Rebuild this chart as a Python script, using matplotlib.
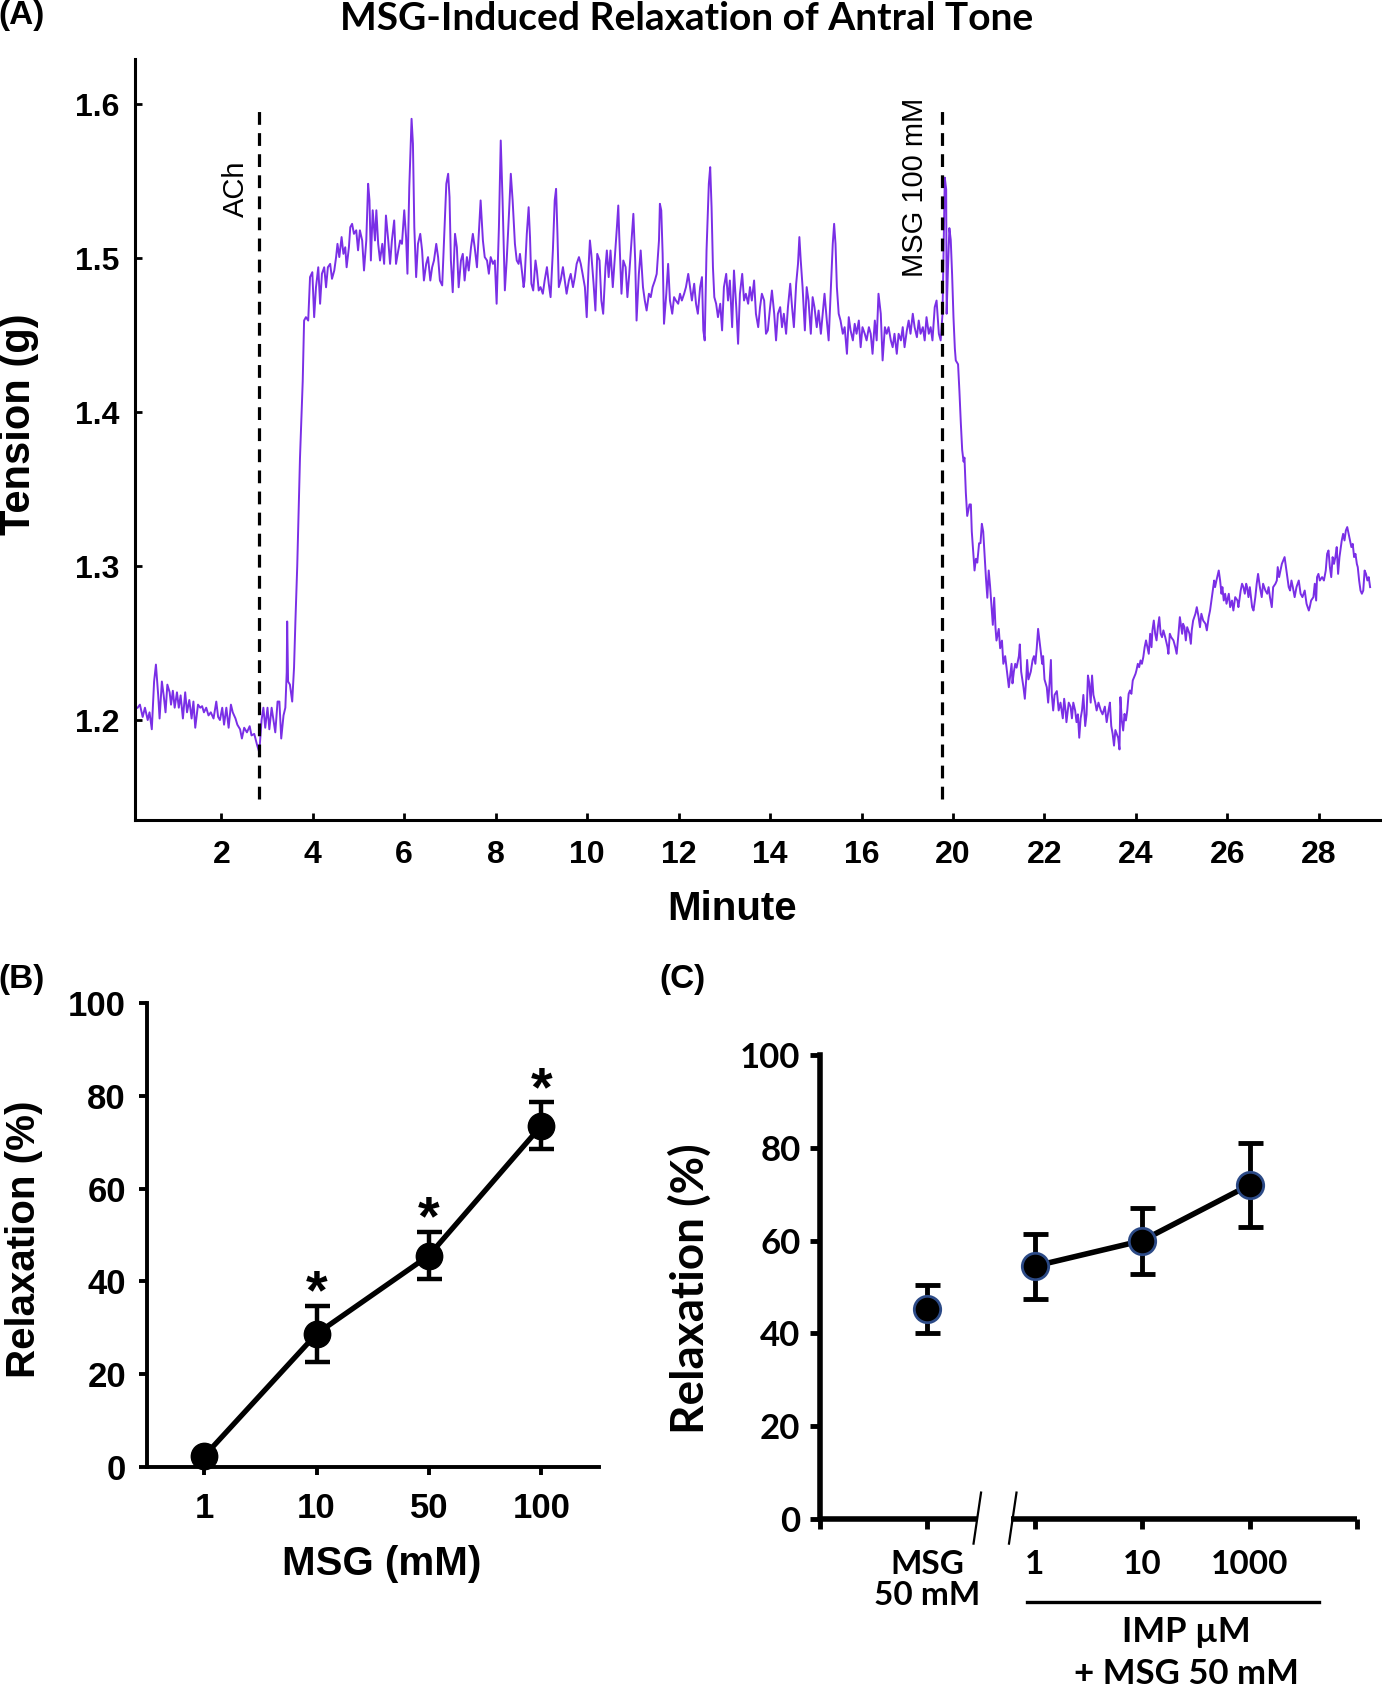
import numpy as np
import matplotlib
matplotlib.use("Agg")
import matplotlib.pyplot as plt

ARIAL = ["Liberation Sans", "DejaVu Sans"]
CALIBRI = ["Lato", "DejaVu Sans"]
plt.rcParams["font.family"] = ARIAL
plt.rcParams["font.weight"] = "bold"

TRACE = "#7a2fe6"

# ---------------- panel A: tension recording (minute, g) ----------------
ach_baseline = [
    (0.17, 1.208), (0.22, 1.210), (0.28, 1.202), (0.33, 1.208), (0.39, 1.200), (0.43, 1.205), (0.48, 1.194), (0.53, 1.225),
    (0.57, 1.236), (0.62, 1.216), (0.65, 1.201), (0.70, 1.225), (0.74, 1.216), (0.78, 1.205), (0.82, 1.223), (0.87, 1.218),
    (0.90, 1.210), (0.94, 1.219), (0.98, 1.208), (1.03, 1.218), (1.07, 1.208), (1.11, 1.216), (1.16, 1.201), (1.21, 1.218),
    (1.25, 1.205), (1.30, 1.213), (1.35, 1.201), (1.39, 1.212), (1.43, 1.195), (1.49, 1.210), (1.54, 1.208), (1.58, 1.209),
    (1.62, 1.205), (1.67, 1.208), (1.72, 1.203), (1.77, 1.205), (1.83, 1.201), (1.89, 1.212), (1.93, 1.202), (1.97, 1.200),
    (2.02, 1.208), (2.06, 1.197), (2.11, 1.208), (2.16, 1.195), (2.21, 1.210), (2.25, 1.205), (2.31, 1.201), (2.35, 1.197),
    (2.41, 1.194), (2.45, 1.188), (2.50, 1.195), (2.56, 1.192), (2.62, 1.196), (2.66, 1.190), (2.72, 1.191), (2.78, 1.184),
    (2.83, 1.179), (2.88, 1.200), (2.92, 1.208), (2.96, 1.195), (3.01, 1.208), (3.05, 1.194), (3.10, 1.208), (3.14, 1.200),
    (3.18, 1.192), (3.23, 1.212), (3.27, 1.212), (3.31, 1.188), (3.36, 1.203), (3.40, 1.208), (3.43, 1.231), (3.44, 1.264),
    (3.46, 1.225), (3.50, 1.223), (3.55, 1.212), (3.59, 1.234), (3.62, 1.264), (3.66, 1.300), (3.72, 1.370), (3.78, 1.420),
]

ach_plateau = [
    (3.81, 1.4594), (3.85, 1.4616), (3.90, 1.4594), (3.94, 1.4876), (3.99, 1.4908), (4.03, 1.4616), (4.07, 1.4810), (4.12, 1.4940),
    (4.16, 1.4703), (4.20, 1.4898), (4.25, 1.4940), (4.29, 1.4810), (4.33, 1.4940), (4.38, 1.4962), (4.42, 1.4865), (4.47, 1.4919),
    (4.51, 1.5006), (4.54, 1.5092), (4.58, 1.5006), (4.63, 1.5136), (4.67, 1.5027), (4.71, 1.5070), (4.74, 1.4940), (4.79, 1.5070),
    (4.82, 1.5200), (4.86, 1.5222), (4.90, 1.5157), (4.95, 1.5180), (4.99, 1.5050), (5.03, 1.5180), (5.08, 1.5114), (5.12, 1.4919),
    (5.17, 1.5114), (5.21, 1.5482), (5.24, 1.5374), (5.27, 1.4984), (5.31, 1.5310), (5.36, 1.5114), (5.39, 1.5310), (5.43, 1.5092),
    (5.47, 1.4984), (5.52, 1.5092), (5.56, 1.4962), (5.60, 1.5276), (5.65, 1.5114), (5.69, 1.4962), (5.73, 1.5114), (5.78, 1.5244),
    (5.82, 1.4962), (5.87, 1.5050), (5.91, 1.5114), (5.95, 1.5092), (6.00, 1.5310), (6.04, 1.5136), (6.07, 1.4898), (6.11, 1.5460),
    (6.16, 1.5904), (6.19, 1.5742), (6.22, 1.5200), (6.26, 1.4876), (6.30, 1.5092), (6.35, 1.5157), (6.39, 1.5050), (6.43, 1.4854),
    (6.48, 1.4962), (6.52, 1.5006), (6.57, 1.4854), (6.61, 1.4940), (6.65, 1.4984), (6.70, 1.5092), (6.74, 1.5006), (6.78, 1.4854),
    (6.83, 1.4822), (6.87, 1.5114), (6.92, 1.5482), (6.96, 1.5547), (6.99, 1.5396), (7.02, 1.4984), (7.06, 1.4778), (7.11, 1.5157),
    (7.15, 1.5070), (7.19, 1.4810), (7.24, 1.4984), (7.28, 1.5027), (7.32, 1.4854), (7.37, 1.5006), (7.41, 1.4919), (7.46, 1.5070),
    (7.50, 1.5157), (7.54, 1.5070), (7.59, 1.4940), (7.63, 1.5157), (7.67, 1.5374), (7.72, 1.5114), (7.76, 1.5006), (7.81, 1.4984),
    (7.85, 1.4898), (7.89, 1.5006), (7.94, 1.4962), (7.98, 1.4984), (8.02, 1.4703), (8.07, 1.5200), (8.11, 1.5763), (8.15, 1.5374),
    (8.20, 1.4790), (8.24, 1.4984), (8.29, 1.5287), (8.33, 1.5547), (8.37, 1.5374), (8.42, 1.5092), (8.46, 1.4984), (8.50, 1.4962),
    (8.53, 1.5027), (8.58, 1.4897), (8.61, 1.4811), (8.63, 1.4854), (8.68, 1.5157), (8.72, 1.5330), (8.75, 1.5136), (8.78, 1.4833),
    (8.82, 1.4789), (8.87, 1.4984), (8.90, 1.4919), (8.94, 1.4789), (8.98, 1.4811), (9.03, 1.4768), (9.07, 1.4854), (9.12, 1.4941),
    (9.16, 1.4833), (9.20, 1.4746), (9.25, 1.5049), (9.29, 1.5374), (9.32, 1.5449), (9.35, 1.5157), (9.38, 1.4811), (9.42, 1.4854),
    (9.47, 1.4941), (9.51, 1.4854), (9.55, 1.4768), (9.60, 1.4854), (9.64, 1.4897), (9.69, 1.4811), (9.73, 1.4876), (9.77, 1.4962),
    (9.82, 1.5006), (9.86, 1.4962), (9.90, 1.4897), (9.95, 1.4811), (9.99, 1.4616), (10.03, 1.4941), (10.06, 1.5114), (10.09, 1.5027),
    (10.14, 1.4833), (10.18, 1.4659), (10.22, 1.5027), (10.27, 1.4984), (10.31, 1.4724), (10.35, 1.4638), (10.40, 1.4941), (10.43, 1.5049),
    (10.47, 1.4876), (10.51, 1.5049), (10.56, 1.4811), (10.60, 1.4984), (10.65, 1.5200), (10.68, 1.5341), (10.70, 1.5157), (10.75, 1.4768),
    (10.79, 1.4984), (10.84, 1.4941), (10.88, 1.4746), (10.92, 1.4897), (10.97, 1.5114), (11.01, 1.5287), (11.05, 1.4984), (11.08, 1.4594),
    (11.13, 1.4897), (11.17, 1.5049), (11.22, 1.4811), (11.26, 1.4724), (11.30, 1.4659), (11.35, 1.4768), (11.39, 1.4746), (11.43, 1.4811),
    (11.48, 1.4854), (11.52, 1.4897), (11.57, 1.5114), (11.59, 1.5352), (11.62, 1.5309), (11.65, 1.5027), (11.68, 1.4573), (11.73, 1.4768),
    (11.77, 1.4962), (11.81, 1.4724), (11.86, 1.4638), (11.90, 1.4746), (11.94, 1.4724), (11.99, 1.4703), (12.03, 1.4768), (12.07, 1.4724),
    (12.12, 1.4768), (12.16, 1.4811), (12.21, 1.4897), (12.25, 1.4811), (12.29, 1.4724), (12.34, 1.4833), (12.38, 1.4703), (12.42, 1.4638),
    (12.47, 1.4811), (12.51, 1.4876), (12.54, 1.4530), (12.57, 1.4465), (12.61, 1.5049), (12.66, 1.5482), (12.69, 1.5590), (12.72, 1.5330),
    (12.75, 1.4941), (12.78, 1.4746), (12.82, 1.4703), (12.86, 1.4616), (12.91, 1.4703), (12.95, 1.4530), (12.99, 1.4811), (13.04, 1.4897),
    (13.08, 1.4724), (13.12, 1.4854), (13.17, 1.4551), (13.21, 1.4919), (13.26, 1.4681), (13.30, 1.4443), (13.34, 1.4768), (13.39, 1.4897),
    (13.43, 1.4724), (13.47, 1.4768), (13.52, 1.4703), (13.56, 1.4811), (13.60, 1.4724), (13.65, 1.4854), (13.69, 1.4638), (13.74, 1.4551),
    (13.78, 1.4681), (13.82, 1.4768), (13.87, 1.4724), (13.91, 1.4508), (13.95, 1.4530), (14.00, 1.4681), (14.04, 1.4789), (14.09, 1.4638),
    (14.13, 1.4465), (14.17, 1.4638), (14.22, 1.4681), (14.26, 1.4551), (14.30, 1.4638), (14.35, 1.4508), (14.39, 1.4681), (14.44, 1.4833),
    (14.48, 1.4681), (14.52, 1.4551), (14.57, 1.4833), (14.61, 1.4962), (14.64, 1.5136), (14.67, 1.4984), (14.71, 1.4811), (14.76, 1.4530),
    (14.80, 1.4811), (14.84, 1.4724), (14.89, 1.4508), (14.93, 1.4746), (14.97, 1.4681), (15.02, 1.4551), (15.06, 1.4659), (15.11, 1.4508),
    (15.15, 1.4638), (15.19, 1.4768), (15.24, 1.4594), (15.28, 1.4465), (15.33, 1.4811), (15.37, 1.5092), (15.40, 1.5222), (15.43, 1.5092),
    (15.46, 1.4811), (15.50, 1.4638), (15.54, 1.4594), (15.59, 1.4508), (15.63, 1.4551), (15.68, 1.4378), (15.72, 1.4616), (15.76, 1.4530),
    (15.81, 1.4465), (15.85, 1.4573), (15.89, 1.4508), (15.94, 1.4594), (15.98, 1.4421), (16.02, 1.4551), (16.07, 1.4508), (16.11, 1.4465),
    (16.16, 1.4551), (16.20, 1.4508), (16.24, 1.4378), (16.29, 1.4594), (16.33, 1.4465), (16.37, 1.4768), (16.42, 1.4638), (16.46, 1.4335),
    (16.51, 1.4551), (16.55, 1.4508), (16.59, 1.4551), (16.64, 1.4465), (16.68, 1.4421), (16.72, 1.4508), (16.77, 1.4378), (16.81, 1.4508),
    (16.86, 1.4465), (16.90, 1.4551), (16.94, 1.4421), (16.99, 1.4530), (17.03, 1.4594), (17.07, 1.4508), (17.12, 1.4638), (17.16, 1.4551),
    (17.21, 1.4486), (17.25, 1.4594), (17.29, 1.4508), (17.34, 1.4551), (17.38, 1.4465), (17.42, 1.4616), (17.47, 1.4508), (17.51, 1.4551),
    (17.55, 1.4465), (17.60, 1.4681), (17.64, 1.4724), (17.69, 1.4508), (17.73, 1.4465), (17.77, 1.4638),
]

msg_relaxation = [
    (17.82, 1.5522), (17.85, 1.5446), (17.86, 1.4638), (17.89, 1.4941), (17.92, 1.5194), (17.95, 1.5118), (17.98, 1.4891), (18.01, 1.4613),
    (18.04, 1.4411), (18.06, 1.4335), (18.11, 1.4310), (18.14, 1.4133), (18.17, 1.3931), (18.20, 1.3754), (18.23, 1.3678), (18.25, 1.3704),
    (18.28, 1.3476), (18.31, 1.3325), (18.36, 1.3400), (18.39, 1.3400), (18.41, 1.3224), (18.44, 1.3097), (18.47, 1.2971), (18.50, 1.3047),
    (18.53, 1.3022), (18.57, 1.3148), (18.60, 1.3148), (18.63, 1.3274), (18.66, 1.3224), (18.69, 1.3072), (18.72, 1.2921), (18.75, 1.2794),
    (18.78, 1.2971), (18.81, 1.2870), (18.84, 1.2744), (18.87, 1.2618), (18.90, 1.2794), (18.93, 1.2592), (18.95, 1.2516), (19.00, 1.2592),
    (19.03, 1.2466), (19.07, 1.2516), (19.10, 1.2365), (19.14, 1.2415), (19.17, 1.2340), (19.22, 1.2213), (19.25, 1.2289), (19.28, 1.2365),
    (19.30, 1.2238), (19.33, 1.2314), (19.36, 1.2365), (19.39, 1.2340), (19.44, 1.2415), (19.46, 1.2491), (19.49, 1.2314), (19.54, 1.2213),
    (19.57, 1.2138), (19.60, 1.2264), (19.62, 1.2390), (19.65, 1.2264), (19.70, 1.2314), (19.74, 1.2390), (19.77, 1.2415), (19.80, 1.2365),
    (19.83, 1.2466), (19.86, 1.2592), (19.89, 1.2516), (19.92, 1.2441), (19.95, 1.2365), (19.97, 1.2415), (20.00, 1.2264), (20.05, 1.2213),
    (20.08, 1.2113), (20.11, 1.2238), (20.14, 1.2390), (20.16, 1.2163), (20.19, 1.2062), (20.22, 1.2163), (20.27, 1.2188), (20.31, 1.2062),
    (20.35, 1.2113), (20.40, 1.2011), (20.43, 1.2138), (20.46, 1.2062), (20.48, 1.1986), (20.53, 1.2113), (20.57, 1.2087), (20.60, 1.2011),
    (20.63, 1.2113), (20.67, 1.2062), (20.70, 1.1986), (20.73, 1.2037), (20.76, 1.1885), (20.79, 1.2011), (20.82, 1.2062), (20.85, 1.2163),
    (20.89, 1.1961), (20.92, 1.2037), (20.95, 1.2289), (20.98, 1.2238), (21.01, 1.2113), (21.04, 1.2289), (21.07, 1.2163), (21.11, 1.2113),
    (21.14, 1.2062), (21.18, 1.2113), (21.23, 1.2062), (21.27, 1.2037), (21.32, 1.2087), (21.36, 1.1986), (21.40, 1.2062), (21.43, 1.2113),
    (21.46, 1.1961), (21.49, 1.1910), (21.52, 1.1834), (21.55, 1.1935), (21.58, 1.1910), (21.61, 1.1885), (21.64, 1.1809), (21.66, 1.2149),
    (21.69, 1.1997), (21.72, 1.1932), (21.75, 1.2040), (21.78, 1.1997), (21.81, 1.2062), (21.84, 1.2170), (21.87, 1.2192), (21.90, 1.2170),
    (21.93, 1.2257), (21.96, 1.2279), (21.99, 1.2300), (22.01, 1.2322), (22.04, 1.2365), (22.07, 1.2343), (22.10, 1.2387), (22.13, 1.2365),
    (22.16, 1.2408), (22.19, 1.2473), (22.22, 1.2517), (22.25, 1.2473), (22.28, 1.2430), (22.31, 1.2560), (22.34, 1.2473), (22.36, 1.2582),
    (22.39, 1.2646), (22.42, 1.2560), (22.45, 1.2517), (22.48, 1.2603), (22.51, 1.2668), (22.54, 1.2560), (22.57, 1.2538), (22.60, 1.2582),
    (22.64, 1.2538), (22.69, 1.2473), (22.71, 1.2430), (22.74, 1.2560), (22.77, 1.2538), (22.82, 1.2517), (22.86, 1.2473), (22.89, 1.2430),
    (22.93, 1.2560), (22.96, 1.2668), (23.01, 1.2560), (23.03, 1.2625), (23.06, 1.2603), (23.09, 1.2517), (23.12, 1.2603), (23.17, 1.2560),
    (23.20, 1.2495), (23.22, 1.2582), (23.25, 1.2646), (23.30, 1.2690), (23.33, 1.2733), (23.37, 1.2668), (23.40, 1.2603), (23.43, 1.2690),
    (23.47, 1.2646), (23.52, 1.2625), (23.55, 1.2582), (23.59, 1.2668), (23.62, 1.2711), (23.65, 1.2776), (23.68, 1.2841), (23.71, 1.2906),
    (23.73, 1.2863), (23.76, 1.2906), (23.81, 1.2971), (23.84, 1.2906), (23.87, 1.2820), (23.89, 1.2863), (23.92, 1.2776), (23.95, 1.2820),
    (23.98, 1.2755), (24.03, 1.2820), (24.06, 1.2733), (24.10, 1.2776), (24.13, 1.2711), (24.17, 1.2798), (24.22, 1.2776), (24.24, 1.2733),
    (24.29, 1.2841), (24.32, 1.2885), (24.35, 1.2863), (24.38, 1.2820), (24.41, 1.2885), (24.43, 1.2863), (24.46, 1.2798), (24.49, 1.2863),
    (24.54, 1.2733), (24.57, 1.2711), (24.61, 1.2798), (24.64, 1.2885), (24.67, 1.2949), (24.71, 1.2863), (24.75, 1.2798), (24.78, 1.2885),
    (24.83, 1.2841), (24.87, 1.2820), (24.90, 1.2863), (24.93, 1.2798), (24.97, 1.2733), (25.00, 1.2863), (25.05, 1.2885), (25.08, 1.2906),
    (25.10, 1.2993), (25.13, 1.2928), (25.16, 1.2971), (25.19, 1.3014), (25.22, 1.3036), (25.25, 1.3058), (25.28, 1.2993), (25.31, 1.2928),
    (25.34, 1.2863), (25.37, 1.2841), (25.40, 1.2906), (25.43, 1.2863), (25.47, 1.2798), (25.51, 1.2863), (25.56, 1.2906), (25.60, 1.2820),
    (25.64, 1.2798), (25.69, 1.2841), (25.73, 1.2755), (25.78, 1.2711), (25.80, 1.2733), (25.83, 1.2776), (25.88, 1.2798), (25.91, 1.2885),
    (25.94, 1.2776), (25.96, 1.2928), (25.99, 1.2949), (26.02, 1.2906), (26.07, 1.2928), (26.11, 1.2906), (26.15, 1.2971), (26.18, 1.3079),
    (26.21, 1.3101), (26.24, 1.2993), (26.27, 1.2928), (26.30, 1.3058), (26.33, 1.3014), (26.36, 1.3058), (26.39, 1.3123), (26.42, 1.2949),
    (26.45, 1.3058), (26.48, 1.3123), (26.50, 1.3166), (26.53, 1.3209), (26.56, 1.3166), (26.59, 1.3231), (26.62, 1.3253), (26.65, 1.3209),
    (26.68, 1.3166), (26.71, 1.3123), (26.74, 1.3144), (26.77, 1.3058), (26.80, 1.3079), (26.83, 1.3014), (26.85, 1.2993), (26.88, 1.2906),
    (26.91, 1.2841), (26.94, 1.2820), (26.97, 1.2841), (27.00, 1.2971), (27.03, 1.2949), (27.06, 1.2906), (27.09, 1.2928), (27.12, 1.2863),
]

ach_minute = 2.83
msg_minute = 17.75
drug_line_span = (1.149, 1.597)

a_xticks = [2, 4, 6, 8, 10, 12, 14, 16, 18, 20, 22, 24, 26]
a_xticklabels = ["2", "4", "6", "8", "10", "12", "14", "16", "20", "22", "24", "26", "28"]
a_yticks = [1.2, 1.3, 1.4, 1.5, 1.6]

# ---------------- panel B: MSG dose response ----------------
msg_doses = ["1", "10", "50", "100"]
msg_relax = [2.3, 28.7, 45.6, 73.6]
msg_sem = [0.0, 6.1, 5.0, 5.0]
msg_signif = [False, True, True, True]

# ---------------- panel C: IMP + MSG ----------------
c_ticklabels = ["", "MSG\n50 mM", "1", "10", "1000", ""]
msg50_relax = [45.3]
msg50_sem = [5.2]
imp_doses = ["1", "10", "1000"]
imp_relax = [54.5, 60.0, 72.0]
imp_sem = [7.0, 7.1, 9.0]

fig = plt.figure(figsize=(13.82, 16.91), dpi=100)

# ---------------- A ----------------
axA = fig.add_axes([0.0977, 0.515, 0.9023, 0.4499])
trace = np.array(ach_baseline + ach_plateau + msg_relaxation)
axA.plot(trace[:, 0], trace[:, 1], color=TRACE, lw=1.4)
for m in (ach_minute, msg_minute):
    axA.plot([m, m], drug_line_span, color="black", lw=2.3, linestyle=(0, (4, 2.6)))
axA.text(2.31, 1.545, "ACh", rotation=90, ha="center", va="center",
         fontsize=21, fontweight="normal")
axA.text(17.16, 1.546, "MSG 100 mM", rotation=90, ha="center", va="center",
         fontsize=21, fontweight="normal")
axA.set_xlim(0.113, 27.38)
axA.set_ylim(1.135, 1.629)
axA.set_xticks(a_xticks, a_xticklabels)
axA.set_yticks(a_yticks, [f"{v:.1f}" for v in a_yticks])
for s in ("top", "right"):
    axA.spines[s].set_visible(False)
for s in ("left", "bottom"):
    axA.spines[s].set_linewidth(2.2)
axA.tick_params(axis="both", direction="in", length=5, width=2, labelsize=23)
axA.tick_params(axis="x", pad=14)
axA.tick_params(axis="y", pad=11)

fig.text(0.497, 0.989, "MSG-Induced Relaxation of Antral Tone", ha="center", va="center",
         fontsize=28, family=CALIBRI, fontweight="bold")
fig.text(0.0156, 0.991, "(A)", ha="center", va="center", fontsize=24)
fig.text(0.014, 0.749, "Tension (g)", rotation=90, ha="center", va="center", fontsize=30)
fig.text(0.530, 0.4622, "Minute", ha="center", va="center", fontsize=29)

# ---------------- B ----------------
axB = fig.add_axes([0.1062, 0.1325, 0.327, 0.2742])
xb = np.arange(len(msg_doses))
axB.plot(xb, msg_relax, color="black", lw=3.8, zorder=2, clip_on=False)
axB.errorbar(xb, msg_relax, yerr=msg_sem, fmt="none", ecolor="black", elinewidth=3.2,
             capsize=9, capthick=3.2, zorder=3, clip_on=False)
axB.plot(xb, msg_relax, "o", color="black", ms=19, zorder=4, clip_on=False)
for x, v, e, sig in zip(xb, msg_relax, msg_sem, msg_signif):
    if sig:
        axB.text(x, v + e - 0.5, "*", ha="center", va="baseline", fontsize=40)
axB.set_xlim(-0.51, 3.51)
axB.set_ylim(0, 100)
axB.set_xticks(xb, msg_doses)
axB.set_yticks([0, 20, 40, 60, 80, 100])
for s in ("top", "right"):
    axB.spines[s].set_visible(False)
for s in ("left", "bottom"):
    axB.spines[s].set_linewidth(2.8)
axB.tick_params(axis="both", direction="out", length=6, width=2.8, labelsize=25)
axB.tick_params(axis="x", pad=12)
axB.tick_params(axis="y", pad=9)

fig.text(0.0156, 0.4208, "(B)", ha="center", va="center", fontsize=24)
fig.text(0.0172, 0.267, "Relaxation (%)", rotation=90, ha="center", va="center", fontsize=29)
fig.text(0.2763, 0.0749, "MSG (mM)", ha="center", va="center", fontsize=29)

# ---------------- C ----------------
axC = fig.add_axes([0.5933, 0.1017, 0.3886, 0.2744])
x_msg = [1]
x_imp = [2, 3, 4]
edge = "#2c4a86"
axC.errorbar(x_msg, msg50_relax, yerr=msg50_sem, fmt="none", ecolor="black", elinewidth=3.5,
             capsize=9, capthick=3.5, zorder=3)
axC.plot(x_imp, imp_relax, color="black", lw=4, zorder=2)
axC.errorbar(x_imp, imp_relax, yerr=imp_sem, fmt="none", ecolor="black", elinewidth=3.5,
             capsize=9, capthick=3.5, zorder=3)
axC.plot(x_msg + x_imp, msg50_relax + imp_relax, "o", color="black", mec=edge, mew=2,
         ms=19, zorder=4)
axC.set_xlim(0, 5)
axC.set_ylim(0, 100)
axC.spines["top"].set_visible(False)
axC.spines["right"].set_visible(False)
axC.spines["bottom"].set_visible(False)
axC.spines["left"].set_linewidth(4)
# broken x axis
axC.plot([0, 1.46], [0, 0], color="black", lw=4, clip_on=False, solid_capstyle="butt")
axC.plot([1.78, 5], [0, 0], color="black", lw=4, clip_on=False, solid_capstyle="butt")
for bx in (1.43, 1.76):
    axC.plot([bx, bx + 0.07], [-5.3, 5.7], color="black", lw=1.6, clip_on=False)
axC.set_xticks(range(6), c_ticklabels, fontsize=24, family=CALIBRI, fontweight="bold",
               linespacing=1.1)
axC.set_yticks([0, 20, 40, 60, 80, 100], ["0", "20", "40", "60", "80", "100"], fontsize=25,
               family=CALIBRI, fontweight="bold")
axC.tick_params(axis="both", direction="out", length=7, width=3.5)
axC.tick_params(axis="x", pad=15)
axC.tick_params(axis="y", pad=7)
axC.plot([1.93, 4.65], [-17.9, -17.9], color="black", lw=2.4, clip_on=False)

fig.text(0.4935, 0.4208, "(C)", ha="center", va="center", fontsize=24)
fig.text(0.4996, 0.2377, "Relaxation (%)", rotation=90, ha="center", va="center",
         fontsize=33, family=CALIBRI, fontweight="bold")
fig.text(0.8587, 0.0348, "IMP \u00b5M", ha="center", va="center", fontsize=25,
         family=CALIBRI, fontweight="bold")
fig.text(0.8587, 0.0098, "+ MSG 50 mM", ha="center", va="center", fontsize=25,
         family=CALIBRI, fontweight="bold")

fig.savefig("out.png", dpi=100, facecolor="white")
